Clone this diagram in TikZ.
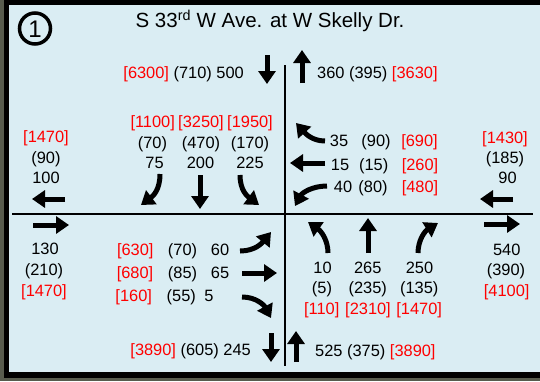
\documentclass[tikz,border=0pt]{standalone}
\usepackage{fontspec}
\setmainfont{Liberation Sans}
\usetikzlibrary{arrows.meta}
\definecolor{panel}{RGB}{218,237,243}
\definecolor{photo}{RGB}{88,92,78}
\begin{document}
\begin{tikzpicture}[x=1pt,y=-1pt,
  lbl/.style={inner sep=0pt, text height=11.7pt, text depth=0pt, font=\fontsize{16.4}{18}\selectfont},
  rd/.style={lbl, text=red},
  arr/.style={line width=5pt, -{Triangle[width=17pt,length=13pt]}},
  road/.style={line width=1.8pt}]
\useasboundingbox (0,0) rectangle (540,381);
\fill[photo] (0,0) rectangle (540,381);
\fill[black] (4,0) rectangle (540,378);
\fill[panel] (9,4.5) rectangle (540,372);
% title
\node[inner sep=0pt, text height=14.7pt, text depth=0pt, font=\fontsize{20.5}{22}\selectfont] (title) at (270,20.5) {S 33\textsuperscript{rd} W Ave. at W Skelly Dr.};
\node[draw, circle, line width=3.5pt, minimum size=31pt, inner sep=0pt, text height=17pt, text depth=0pt, font=\fontsize{24}{26}\selectfont] (one) at (35,28.5) {1};
% roads
\coordinate (vt) at (285,65); \coordinate (vb) at (285,366);
\coordinate (hl) at (12,214); \coordinate (hr) at (533,214);
\draw[road] (vt) -- (vb);
\draw[road] (hl) -- (hr);
% top
\node[lbl, anchor=east] (topL) at (244,72.5) {\textcolor{red}{[6300]} (710) 500};
\node[lbl, anchor=west] (topR) at (317,73) {360 (395) \textcolor{red}{[3630]}};
\draw[arr] (267,55) -- (267,84);
\draw[arr] (302,83) -- (302,50);
% west upper
\node[rd] (w1) at (46,137) {[1470]};
\node[lbl] (w2) at (46,157.5) {(90)};
\node[lbl] (w3) at (46,177.5) {100};
\draw[arr] (65,199) -- (32,199);
% north approach
\node[rd] (n1a) at (152.7,122) {[1100]};
\node[lbl] (n1b) at (152.5,143) {(70)};
\node[lbl] (n1c) at (154.5,163) {75};
\node[rd] (n2a) at (201,122) {[3250]};
\node[lbl] (n2b) at (201,143) {(470)};
\node[lbl] (n2c) at (200.5,163) {200};
\node[rd] (n3a) at (250,122) {[1950]};
\node[lbl] (n3b) at (250,143) {(170)};
\node[lbl] (n3c) at (250,163) {225};
\draw[arr] (160,174) .. controls (160,190) and (153,196) .. (141,205);
\draw[arr] (200,175) -- (200,209);
\draw[arr] (240,175) .. controls (240,190) and (247,196) .. (259,205);
% east approach
\node[lbl] (e1a) at (339,141) {35};
\node[lbl] (e1b) at (376,141) {(90)};
\node[rd] (e1c) at (419.5,141) {[690]};
\node[lbl] (e2a) at (340,164.5) {15};
\node[lbl] (e2b) at (373.7,164.5) {(15)};
\node[rd] (e2c) at (420,164.5) {[260]};
\node[lbl] (e3a) at (343,186.5) {40};
\node[lbl] (e3b) at (373,186.5) {(80)};
\node[rd] (e3c) at (420,186.5) {[480]};
\draw[arr] (325,141) .. controls (312,141) and (305,133) .. (296,123);
\draw[arr] (325,163) -- (290,163);
\draw[arr] (327,186) .. controls (312,186) and (302,193) .. (295,206);
% east upper
\node[rd] (eu1) at (505,138) {[1430]};
\node[lbl] (eu2) at (505,157.5) {(185)};
\node[lbl] (eu3) at (507.5,177.5) {90};
\draw[arr] (513,199) -- (480,199);
% west lower
\draw[arr] (33,225) -- (69,225);
\node[lbl] (wl1) at (45,249) {130};
\node[lbl] (wl2) at (44,270) {(210)};
\node[rd] (wl3) at (44,291) {[1470]};
% west approach
\node[rd] (s1a) at (135.3,249.5) {[630]};
\node[lbl] (s1b) at (182.5,249.5) {(70)};
\node[lbl] (s1c) at (220,249.5) {60};
\node[rd] (s2a) at (135,273) {[680]};
\node[lbl] (s2b) at (182.5,273) {(85)};
\node[lbl] (s2c) at (220,273) {65};
\node[rd] (s3a) at (133.7,295.5) {[160]};
\node[lbl] (s3b) at (181.3,295.5) {(55)};
\node[lbl] (s3c) at (209,295.5) {5};
\draw[arr] (240,251) .. controls (255,251) and (262,243) .. (271,232);
\draw[arr] (242,273) -- (277,273);
\draw[arr] (242,297) .. controls (256,297) and (264,305) .. (271,318);
% bottom
\node[lbl, anchor=east] (botL) at (251,350) {\textcolor{red}{[3890]} (605) 245};
\draw[arr] (271,333) -- (271,362);
\draw[arr] (296,362) -- (296,331);
\node[lbl, anchor=west] (botR) at (315,350.5) {525 (375) \textcolor{red}{[3890]}};
% south approach
\node[lbl] (t1a) at (322.5,268) {10};
\node[lbl] (t1b) at (322,288) {(5)};
\node[rd] (t1c) at (321.7,309) {[110]};
\node[lbl] (t2a) at (367.8,268) {265};
\node[lbl] (t2b) at (367.8,288) {(235)};
\node[rd] (t2c) at (368,309) {[2310]};
\node[lbl] (t3a) at (419.5,268) {250};
\node[lbl] (t3b) at (419.3,288) {(135)};
\node[rd] (t3c) at (419.2,309) {[1470]};
\draw[arr] (328,253) .. controls (328,240) and (321,231) .. (308,222);
\draw[arr] (368,253) -- (368,218);
\draw[arr] (418,253) .. controls (418,240) and (425,231) .. (438,223);
% east lower
\draw[arr] (484,224) -- (520,224);
\node[lbl] (el1) at (506.7,250) {540};
\node[lbl] (el2) at (506,270) {(390)};
\node[rd] (el3) at (506.7,291) {[4100]};
\end{tikzpicture}
\end{document}
